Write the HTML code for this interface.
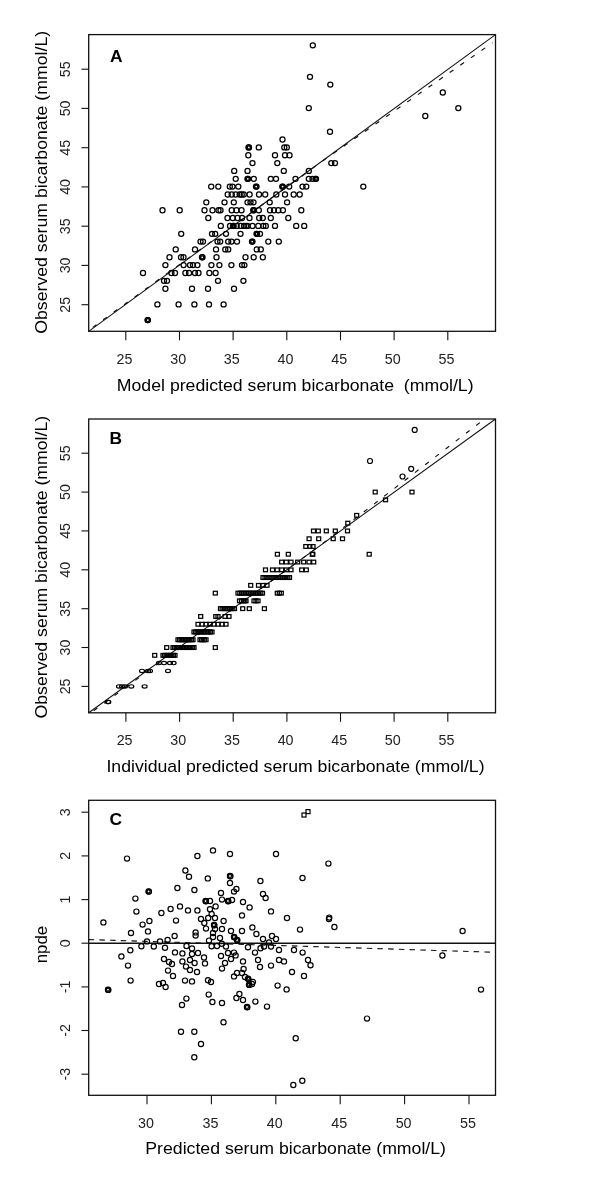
<!DOCTYPE html>
<html lang="en"><head><meta charset="utf-8"><title>Figure</title>
<style>html,body{margin:0;padding:0;background:#fff}svg{display:block}text{font-family:'Liberation Sans', sans-serif;fill:#111}.fr{fill:none;stroke:#111;stroke-width:1.3}.tk{stroke:#111;stroke-width:1.1;fill:none}.ln{stroke:#111;stroke-width:1.05;fill:none}.ds{stroke:#111;stroke-width:1.15;fill:none;stroke-dasharray:4.6 8.3}.pt{fill:none;stroke:#000;stroke-width:1.25}.pc{fill:none;stroke:#000;stroke-width:1.2}.ps{fill:none;stroke:#000;stroke-width:1.25}.tl{font-size:14.3px;fill:#222}.ax{font-size:17px;fill:#000}.pl{font-size:17.4px;font-weight:bold;fill:#000}</style></head><body>
<svg width="600" height="1200" viewBox="0 0 600 1200">
<rect x="0" y="0" width="600" height="1200" fill="#fff"/>
<g id="panelA">
<line class="ln" x1="88.7" y1="331.3" x2="495.5" y2="34.6"/>
<polyline class="ds" points="92.7,327.4 330.0,155.7 492.5,42.8"/>
<circle class="pt" cx="147.6" cy="320.1" r="2.55"/>
<circle class="pt" cx="147.9" cy="320.1" r="2.55"/>
<circle class="pt" cx="147.8" cy="320.1" r="1.50"/>
<circle class="pt" cx="157.4" cy="304.4" r="2.55"/>
<circle class="pt" cx="178.6" cy="304.4" r="2.55"/>
<circle class="pt" cx="194.4" cy="304.4" r="2.55"/>
<circle class="pt" cx="209.0" cy="304.4" r="2.55"/>
<circle class="pt" cx="223.6" cy="304.4" r="2.55"/>
<circle class="pt" cx="165.4" cy="288.7" r="2.55"/>
<circle class="pt" cx="192.0" cy="288.7" r="2.55"/>
<circle class="pt" cx="208.0" cy="288.7" r="2.55"/>
<circle class="pt" cx="234.0" cy="288.7" r="2.55"/>
<circle class="pt" cx="164.0" cy="280.8" r="2.55"/>
<circle class="pt" cx="167.0" cy="280.8" r="2.55"/>
<circle class="pt" cx="218.0" cy="280.8" r="2.55"/>
<circle class="pt" cx="243.4" cy="280.8" r="2.55"/>
<circle class="pt" cx="143.0" cy="273.0" r="2.55"/>
<circle class="pt" cx="171.4" cy="273.0" r="2.55"/>
<circle class="pt" cx="175.0" cy="273.0" r="2.55"/>
<circle class="pt" cx="185.4" cy="273.0" r="2.55"/>
<circle class="pt" cx="189.0" cy="273.0" r="2.55"/>
<circle class="pt" cx="195.0" cy="273.0" r="2.55"/>
<circle class="pt" cx="198.5" cy="273.0" r="2.55"/>
<circle class="pt" cx="209.4" cy="273.0" r="2.55"/>
<circle class="pt" cx="215.6" cy="273.0" r="2.55"/>
<circle class="pt" cx="165.4" cy="265.1" r="2.55"/>
<circle class="pt" cx="183.6" cy="265.1" r="2.55"/>
<circle class="pt" cx="190.0" cy="265.1" r="2.55"/>
<circle class="pt" cx="193.0" cy="265.1" r="2.55"/>
<circle class="pt" cx="197.4" cy="265.1" r="2.55"/>
<circle class="pt" cx="211.4" cy="265.1" r="2.55"/>
<circle class="pt" cx="219.4" cy="265.1" r="2.55"/>
<circle class="pt" cx="231.4" cy="265.1" r="2.55"/>
<circle class="pt" cx="242.0" cy="265.1" r="2.55"/>
<circle class="pt" cx="244.4" cy="265.1" r="2.55"/>
<circle class="pt" cx="169.5" cy="257.3" r="2.55"/>
<circle class="pt" cx="181.0" cy="257.3" r="2.55"/>
<circle class="pt" cx="183.5" cy="257.3" r="2.55"/>
<circle class="pt" cx="202.0" cy="257.3" r="2.55"/>
<circle class="pt" cx="202.5" cy="257.3" r="2.55"/>
<circle class="pt" cx="216.5" cy="257.3" r="2.55"/>
<circle class="pt" cx="245.5" cy="257.3" r="2.55"/>
<circle class="pt" cx="253.7" cy="257.3" r="2.55"/>
<circle class="pt" cx="262.8" cy="257.3" r="2.55"/>
<circle class="pt" cx="202.2" cy="257.3" r="1.50"/>
<circle class="pt" cx="175.7" cy="249.4" r="2.55"/>
<circle class="pt" cx="195.0" cy="249.4" r="2.55"/>
<circle class="pt" cx="216.0" cy="249.4" r="2.55"/>
<circle class="pt" cx="225.3" cy="249.4" r="2.55"/>
<circle class="pt" cx="228.2" cy="249.4" r="2.55"/>
<circle class="pt" cx="256.7" cy="249.4" r="2.55"/>
<circle class="pt" cx="260.8" cy="249.4" r="2.55"/>
<circle class="pt" cx="200.5" cy="241.6" r="2.55"/>
<circle class="pt" cx="203.0" cy="241.6" r="2.55"/>
<circle class="pt" cx="217.5" cy="241.6" r="2.55"/>
<circle class="pt" cx="220.2" cy="241.6" r="2.55"/>
<circle class="pt" cx="228.2" cy="241.6" r="2.55"/>
<circle class="pt" cx="231.5" cy="241.6" r="2.55"/>
<circle class="pt" cx="237.0" cy="241.6" r="2.55"/>
<circle class="pt" cx="252.0" cy="241.6" r="2.55"/>
<circle class="pt" cx="252.5" cy="241.6" r="2.55"/>
<circle class="pt" cx="268.3" cy="241.6" r="2.55"/>
<circle class="pt" cx="278.8" cy="241.6" r="2.55"/>
<circle class="pt" cx="252.2" cy="241.6" r="1.50"/>
<circle class="pt" cx="181.2" cy="233.8" r="2.55"/>
<circle class="pt" cx="212.0" cy="233.8" r="2.55"/>
<circle class="pt" cx="215.2" cy="233.8" r="2.55"/>
<circle class="pt" cx="226.0" cy="233.8" r="2.55"/>
<circle class="pt" cx="240.5" cy="233.8" r="2.55"/>
<circle class="pt" cx="256.5" cy="233.8" r="2.55"/>
<circle class="pt" cx="257.0" cy="233.8" r="2.55"/>
<circle class="pt" cx="260.0" cy="233.8" r="2.55"/>
<circle class="pt" cx="256.8" cy="233.8" r="1.50"/>
<circle class="pt" cx="220.8" cy="225.9" r="2.55"/>
<circle class="pt" cx="230.0" cy="225.9" r="2.55"/>
<circle class="pt" cx="233.0" cy="225.9" r="2.55"/>
<circle class="pt" cx="233.6" cy="225.9" r="2.55"/>
<circle class="pt" cx="236.7" cy="225.9" r="2.55"/>
<circle class="pt" cx="240.8" cy="225.9" r="2.55"/>
<circle class="pt" cx="244.0" cy="225.9" r="2.55"/>
<circle class="pt" cx="246.0" cy="225.9" r="2.55"/>
<circle class="pt" cx="247.5" cy="225.9" r="2.55"/>
<circle class="pt" cx="252.5" cy="225.9" r="2.55"/>
<circle class="pt" cx="258.3" cy="225.9" r="2.55"/>
<circle class="pt" cx="263.3" cy="225.9" r="2.55"/>
<circle class="pt" cx="265.8" cy="225.9" r="2.55"/>
<circle class="pt" cx="275.0" cy="225.9" r="2.55"/>
<circle class="pt" cx="296.2" cy="225.9" r="2.55"/>
<circle class="pt" cx="304.2" cy="225.9" r="2.55"/>
<circle class="pt" cx="233.3" cy="225.9" r="1.50"/>
<circle class="pt" cx="208.3" cy="218.0" r="2.55"/>
<circle class="pt" cx="227.5" cy="218.0" r="2.55"/>
<circle class="pt" cx="232.8" cy="218.0" r="2.55"/>
<circle class="pt" cx="237.5" cy="218.0" r="2.55"/>
<circle class="pt" cx="242.0" cy="218.0" r="2.55"/>
<circle class="pt" cx="249.5" cy="218.0" r="2.55"/>
<circle class="pt" cx="259.2" cy="218.0" r="2.55"/>
<circle class="pt" cx="262.8" cy="218.0" r="2.55"/>
<circle class="pt" cx="270.8" cy="218.0" r="2.55"/>
<circle class="pt" cx="288.3" cy="218.0" r="2.55"/>
<circle class="pt" cx="162.5" cy="210.2" r="2.55"/>
<circle class="pt" cx="179.7" cy="210.2" r="2.55"/>
<circle class="pt" cx="204.5" cy="210.2" r="2.55"/>
<circle class="pt" cx="212.5" cy="210.2" r="2.55"/>
<circle class="pt" cx="218.5" cy="210.2" r="2.55"/>
<circle class="pt" cx="220.5" cy="210.2" r="2.55"/>
<circle class="pt" cx="231.7" cy="210.2" r="2.55"/>
<circle class="pt" cx="236.5" cy="210.2" r="2.55"/>
<circle class="pt" cx="241.5" cy="210.2" r="2.55"/>
<circle class="pt" cx="253.3" cy="210.2" r="2.55"/>
<circle class="pt" cx="253.8" cy="210.2" r="2.55"/>
<circle class="pt" cx="258.8" cy="210.2" r="2.55"/>
<circle class="pt" cx="270.0" cy="210.2" r="2.55"/>
<circle class="pt" cx="274.0" cy="210.2" r="2.55"/>
<circle class="pt" cx="278.3" cy="210.2" r="2.55"/>
<circle class="pt" cx="282.9" cy="210.2" r="2.55"/>
<circle class="pt" cx="301.3" cy="210.2" r="2.55"/>
<circle class="pt" cx="253.6" cy="210.2" r="1.50"/>
<circle class="pt" cx="206.3" cy="202.3" r="2.55"/>
<circle class="pt" cx="224.5" cy="202.3" r="2.55"/>
<circle class="pt" cx="233.8" cy="202.3" r="2.55"/>
<circle class="pt" cx="247.5" cy="202.3" r="2.55"/>
<circle class="pt" cx="250.5" cy="202.3" r="2.55"/>
<circle class="pt" cx="253.5" cy="202.3" r="2.55"/>
<circle class="pt" cx="269.7" cy="202.3" r="2.55"/>
<circle class="pt" cx="287.1" cy="202.3" r="2.55"/>
<circle class="pt" cx="227.7" cy="194.5" r="2.55"/>
<circle class="pt" cx="231.7" cy="194.5" r="2.55"/>
<circle class="pt" cx="235.7" cy="194.5" r="2.55"/>
<circle class="pt" cx="239.7" cy="194.5" r="2.55"/>
<circle class="pt" cx="241.7" cy="194.5" r="2.55"/>
<circle class="pt" cx="243.7" cy="194.5" r="2.55"/>
<circle class="pt" cx="249.6" cy="194.5" r="2.55"/>
<circle class="pt" cx="259.0" cy="194.5" r="2.55"/>
<circle class="pt" cx="265.2" cy="194.5" r="2.55"/>
<circle class="pt" cx="276.3" cy="194.5" r="2.55"/>
<circle class="pt" cx="285.0" cy="194.5" r="2.55"/>
<circle class="pt" cx="293.7" cy="194.5" r="2.55"/>
<circle class="pt" cx="299.7" cy="194.5" r="2.55"/>
<circle class="pt" cx="211.2" cy="186.6" r="2.55"/>
<circle class="pt" cx="218.3" cy="186.6" r="2.55"/>
<circle class="pt" cx="229.8" cy="186.6" r="2.55"/>
<circle class="pt" cx="232.5" cy="186.6" r="2.55"/>
<circle class="pt" cx="238.3" cy="186.6" r="2.55"/>
<circle class="pt" cx="256.0" cy="186.6" r="2.55"/>
<circle class="pt" cx="256.5" cy="186.6" r="2.55"/>
<circle class="pt" cx="282.3" cy="186.6" r="2.55"/>
<circle class="pt" cx="282.8" cy="186.6" r="2.55"/>
<circle class="pt" cx="289.2" cy="186.6" r="2.55"/>
<circle class="pt" cx="302.5" cy="186.6" r="2.55"/>
<circle class="pt" cx="306.3" cy="186.6" r="2.55"/>
<circle class="pt" cx="363.3" cy="186.6" r="2.55"/>
<circle class="pt" cx="256.2" cy="186.6" r="1.50"/>
<circle class="pt" cx="282.6" cy="186.6" r="1.50"/>
<circle class="pt" cx="235.7" cy="178.8" r="2.55"/>
<circle class="pt" cx="247.5" cy="178.8" r="2.55"/>
<circle class="pt" cx="248.0" cy="178.8" r="2.55"/>
<circle class="pt" cx="253.8" cy="178.8" r="2.55"/>
<circle class="pt" cx="270.8" cy="178.8" r="2.55"/>
<circle class="pt" cx="276.0" cy="178.8" r="2.55"/>
<circle class="pt" cx="295.5" cy="178.8" r="2.55"/>
<circle class="pt" cx="308.8" cy="178.8" r="2.55"/>
<circle class="pt" cx="312.5" cy="178.8" r="2.55"/>
<circle class="pt" cx="315.5" cy="178.8" r="2.55"/>
<circle class="pt" cx="316.0" cy="178.8" r="2.55"/>
<circle class="pt" cx="247.8" cy="178.8" r="1.50"/>
<circle class="pt" cx="315.8" cy="178.8" r="1.50"/>
<circle class="pt" cx="234.2" cy="170.9" r="2.55"/>
<circle class="pt" cx="247.5" cy="170.9" r="2.55"/>
<circle class="pt" cx="283.8" cy="170.9" r="2.55"/>
<circle class="pt" cx="308.8" cy="170.9" r="2.55"/>
<circle class="pt" cx="252.5" cy="163.1" r="2.55"/>
<circle class="pt" cx="277.3" cy="163.1" r="2.55"/>
<circle class="pt" cx="331.3" cy="163.1" r="2.55"/>
<circle class="pt" cx="335.0" cy="163.1" r="2.55"/>
<circle class="pt" cx="248.3" cy="155.2" r="2.55"/>
<circle class="pt" cx="275.0" cy="155.2" r="2.55"/>
<circle class="pt" cx="285.0" cy="155.2" r="2.55"/>
<circle class="pt" cx="289.5" cy="155.2" r="2.55"/>
<circle class="pt" cx="248.5" cy="147.4" r="2.55"/>
<circle class="pt" cx="249.0" cy="147.4" r="2.55"/>
<circle class="pt" cx="258.8" cy="147.4" r="2.55"/>
<circle class="pt" cx="284.3" cy="147.4" r="2.55"/>
<circle class="pt" cx="286.8" cy="147.4" r="2.55"/>
<circle class="pt" cx="248.8" cy="147.4" r="1.50"/>
<circle class="pt" cx="282.5" cy="139.5" r="2.55"/>
<circle class="pt" cx="330.0" cy="131.7" r="2.55"/>
<circle class="pt" cx="425.3" cy="116.0" r="2.55"/>
<circle class="pt" cx="308.8" cy="108.1" r="2.55"/>
<circle class="pt" cx="458.3" cy="108.1" r="2.55"/>
<circle class="pt" cx="442.8" cy="92.5" r="2.55"/>
<circle class="pt" cx="330.3" cy="84.6" r="2.55"/>
<circle class="pt" cx="310.0" cy="76.8" r="2.55"/>
<circle class="pt" cx="312.8" cy="45.3" r="2.55"/>
<rect class="fr" x="88.7" y="34.6" width="406.8" height="296.7"/>
<line class="tk" x1="125.8" y1="331.3" x2="125.8" y2="340.3"/>
<text class="tl" x="124.5" y="364.1" text-anchor="middle">25</text>
<line class="tk" x1="179.5" y1="331.3" x2="179.5" y2="340.3"/>
<text class="tl" x="178.2" y="364.1" text-anchor="middle">30</text>
<line class="tk" x1="233.1" y1="331.3" x2="233.1" y2="340.3"/>
<text class="tl" x="231.8" y="364.1" text-anchor="middle">35</text>
<line class="tk" x1="286.8" y1="331.3" x2="286.8" y2="340.3"/>
<text class="tl" x="285.5" y="364.1" text-anchor="middle">40</text>
<line class="tk" x1="340.5" y1="331.3" x2="340.5" y2="340.3"/>
<text class="tl" x="339.2" y="364.1" text-anchor="middle">45</text>
<line class="tk" x1="394.1" y1="331.3" x2="394.1" y2="340.3"/>
<text class="tl" x="392.8" y="364.1" text-anchor="middle">50</text>
<line class="tk" x1="447.8" y1="331.3" x2="447.8" y2="340.3"/>
<text class="tl" x="446.5" y="364.1" text-anchor="middle">55</text>
<line class="tk" x1="81.5" y1="304.7" x2="88.7" y2="304.7"/>
<text class="tl" transform="translate(70.1 304.7) rotate(-90)" text-anchor="middle">25</text>
<line class="tk" x1="81.5" y1="265.4" x2="88.7" y2="265.4"/>
<text class="tl" transform="translate(70.1 265.4) rotate(-90)" text-anchor="middle">30</text>
<line class="tk" x1="81.5" y1="226.2" x2="88.7" y2="226.2"/>
<text class="tl" transform="translate(70.1 226.2) rotate(-90)" text-anchor="middle">35</text>
<line class="tk" x1="81.5" y1="186.9" x2="88.7" y2="186.9"/>
<text class="tl" transform="translate(70.1 186.9) rotate(-90)" text-anchor="middle">40</text>
<line class="tk" x1="81.5" y1="147.7" x2="88.7" y2="147.7"/>
<text class="tl" transform="translate(70.1 147.7) rotate(-90)" text-anchor="middle">45</text>
<line class="tk" x1="81.5" y1="108.4" x2="88.7" y2="108.4"/>
<text class="tl" transform="translate(70.1 108.4) rotate(-90)" text-anchor="middle">50</text>
<line class="tk" x1="81.5" y1="69.2" x2="88.7" y2="69.2"/>
<text class="tl" transform="translate(70.1 69.2) rotate(-90)" text-anchor="middle">55</text>
<text class="ax" x="116.8" y="390.5" textLength="356.8" lengthAdjust="spacingAndGlyphs" xml:space="preserve">Model predicted serum bicarbonate  (mmol/L)</text>
<text class="ax" transform="translate(47.0 333.8) rotate(-90)" textLength="303.0" lengthAdjust="spacingAndGlyphs">Observed serum bicarbonate (mmol/L)</text>
<text class="pl" x="110.0" y="62.0">A</text>
</g>
<g id="panelB">
<line class="ln" x1="88.7" y1="712.8" x2="495.5" y2="419.0"/>
<polyline class="ds" points="93.7,710.8 325.0,541.8 485.5,418.3"/>
<ellipse class="pc" cx="108.0" cy="701.9" rx="2.5" ry="1.65"/>
<ellipse class="pc" cx="108.3" cy="701.9" rx="2.5" ry="1.65"/>
<ellipse class="pc" cx="119.0" cy="686.4" rx="2.5" ry="1.65"/>
<ellipse class="pc" cx="122.0" cy="686.4" rx="2.5" ry="1.65"/>
<ellipse class="pc" cx="125.0" cy="686.4" rx="2.5" ry="1.65"/>
<ellipse class="pc" cx="131.3" cy="686.4" rx="2.5" ry="1.65"/>
<ellipse class="pc" cx="144.6" cy="686.4" rx="2.5" ry="1.65"/>
<ellipse class="pc" cx="142.0" cy="670.9" rx="2.5" ry="1.65"/>
<ellipse class="pc" cx="148.0" cy="670.9" rx="2.5" ry="1.65"/>
<ellipse class="pc" cx="150.0" cy="670.9" rx="2.5" ry="1.65"/>
<ellipse class="pc" cx="168.0" cy="670.9" rx="2.5" ry="1.65"/>
<ellipse class="pc" cx="159.0" cy="663.1" rx="2.5" ry="1.65"/>
<ellipse class="pc" cx="164.0" cy="663.1" rx="2.5" ry="1.65"/>
<ellipse class="pc" cx="170.0" cy="663.1" rx="2.5" ry="1.65"/>
<ellipse class="pc" cx="173.6" cy="663.1" rx="2.5" ry="1.65"/>
<rect class="ps" x="152.7" y="653.5" width="4" height="3.7"/>
<rect class="ps" x="161.0" y="653.5" width="4" height="3.7"/>
<rect class="ps" x="164.0" y="653.5" width="4" height="3.7"/>
<rect class="ps" x="167.0" y="653.5" width="4" height="3.7"/>
<rect class="ps" x="170.0" y="653.5" width="4" height="3.7"/>
<rect class="ps" x="173.0" y="653.5" width="4" height="3.7"/>
<rect class="ps" x="162.5" y="653.5" width="4" height="3.7"/>
<rect class="ps" x="165.5" y="653.5" width="4" height="3.7"/>
<rect class="ps" x="168.5" y="653.5" width="4" height="3.7"/>
<rect class="ps" x="171.5" y="653.5" width="4" height="3.7"/>
<rect class="ps" x="164.7" y="645.7" width="4" height="3.7"/>
<rect class="ps" x="171.0" y="645.7" width="4" height="3.7"/>
<rect class="ps" x="174.0" y="645.7" width="4" height="3.7"/>
<rect class="ps" x="177.0" y="645.7" width="4" height="3.7"/>
<rect class="ps" x="180.0" y="645.7" width="4" height="3.7"/>
<rect class="ps" x="183.0" y="645.7" width="4" height="3.7"/>
<rect class="ps" x="186.0" y="645.7" width="4" height="3.7"/>
<rect class="ps" x="189.0" y="645.7" width="4" height="3.7"/>
<rect class="ps" x="192.0" y="645.7" width="4" height="3.7"/>
<rect class="ps" x="213.3" y="645.7" width="4" height="3.7"/>
<rect class="ps" x="172.5" y="645.7" width="4" height="3.7"/>
<rect class="ps" x="175.5" y="645.7" width="4" height="3.7"/>
<rect class="ps" x="178.5" y="645.7" width="4" height="3.7"/>
<rect class="ps" x="181.5" y="645.7" width="4" height="3.7"/>
<rect class="ps" x="184.5" y="645.7" width="4" height="3.7"/>
<rect class="ps" x="187.5" y="645.7" width="4" height="3.7"/>
<rect class="ps" x="190.5" y="645.7" width="4" height="3.7"/>
<rect class="ps" x="176.0" y="637.9" width="4" height="3.7"/>
<rect class="ps" x="179.0" y="637.9" width="4" height="3.7"/>
<rect class="ps" x="182.0" y="637.9" width="4" height="3.7"/>
<rect class="ps" x="185.0" y="637.9" width="4" height="3.7"/>
<rect class="ps" x="188.0" y="637.9" width="4" height="3.7"/>
<rect class="ps" x="191.0" y="637.9" width="4" height="3.7"/>
<rect class="ps" x="198.0" y="637.9" width="4" height="3.7"/>
<rect class="ps" x="201.0" y="637.9" width="4" height="3.7"/>
<rect class="ps" x="204.0" y="637.9" width="4" height="3.7"/>
<rect class="ps" x="177.5" y="637.9" width="4" height="3.7"/>
<rect class="ps" x="180.5" y="637.9" width="4" height="3.7"/>
<rect class="ps" x="183.5" y="637.9" width="4" height="3.7"/>
<rect class="ps" x="186.5" y="637.9" width="4" height="3.7"/>
<rect class="ps" x="189.5" y="637.9" width="4" height="3.7"/>
<rect class="ps" x="199.5" y="637.9" width="4" height="3.7"/>
<rect class="ps" x="202.5" y="637.9" width="4" height="3.7"/>
<rect class="ps" x="192.0" y="630.1" width="4" height="3.7"/>
<rect class="ps" x="195.0" y="630.1" width="4" height="3.7"/>
<rect class="ps" x="198.0" y="630.1" width="4" height="3.7"/>
<rect class="ps" x="201.0" y="630.1" width="4" height="3.7"/>
<rect class="ps" x="204.0" y="630.1" width="4" height="3.7"/>
<rect class="ps" x="207.0" y="630.1" width="4" height="3.7"/>
<rect class="ps" x="210.0" y="630.1" width="4" height="3.7"/>
<rect class="ps" x="193.5" y="630.1" width="4" height="3.7"/>
<rect class="ps" x="196.5" y="630.1" width="4" height="3.7"/>
<rect class="ps" x="199.5" y="630.1" width="4" height="3.7"/>
<rect class="ps" x="202.5" y="630.1" width="4" height="3.7"/>
<rect class="ps" x="205.5" y="630.1" width="4" height="3.7"/>
<rect class="ps" x="208.5" y="630.1" width="4" height="3.7"/>
<rect class="ps" x="196.0" y="622.4" width="4" height="3.7"/>
<rect class="ps" x="200.0" y="622.4" width="4" height="3.7"/>
<rect class="ps" x="204.0" y="622.4" width="4" height="3.7"/>
<rect class="ps" x="208.0" y="622.4" width="4" height="3.7"/>
<rect class="ps" x="212.0" y="622.4" width="4" height="3.7"/>
<rect class="ps" x="216.0" y="622.4" width="4" height="3.7"/>
<rect class="ps" x="220.0" y="622.4" width="4" height="3.7"/>
<rect class="ps" x="224.0" y="622.4" width="4" height="3.7"/>
<rect class="ps" x="198.7" y="614.6" width="4" height="3.7"/>
<rect class="ps" x="213.8" y="614.6" width="4" height="3.7"/>
<rect class="ps" x="216.0" y="614.6" width="4" height="3.7"/>
<rect class="ps" x="223.0" y="614.6" width="4" height="3.7"/>
<rect class="ps" x="227.0" y="614.6" width="4" height="3.7"/>
<rect class="ps" x="218.5" y="606.8" width="4" height="3.7"/>
<rect class="ps" x="222.0" y="606.8" width="4" height="3.7"/>
<rect class="ps" x="225.5" y="606.8" width="4" height="3.7"/>
<rect class="ps" x="229.0" y="606.8" width="4" height="3.7"/>
<rect class="ps" x="232.5" y="606.8" width="4" height="3.7"/>
<rect class="ps" x="240.7" y="606.8" width="4" height="3.7"/>
<rect class="ps" x="247.3" y="606.8" width="4" height="3.7"/>
<rect class="ps" x="262.4" y="606.8" width="4" height="3.7"/>
<rect class="ps" x="220.2" y="606.8" width="4" height="3.7"/>
<rect class="ps" x="223.8" y="606.8" width="4" height="3.7"/>
<rect class="ps" x="227.2" y="606.8" width="4" height="3.7"/>
<rect class="ps" x="230.8" y="606.8" width="4" height="3.7"/>
<rect class="ps" x="237.5" y="599.0" width="4" height="3.7"/>
<rect class="ps" x="241.5" y="599.0" width="4" height="3.7"/>
<rect class="ps" x="244.0" y="599.0" width="4" height="3.7"/>
<rect class="ps" x="252.0" y="599.0" width="4" height="3.7"/>
<rect class="ps" x="256.0" y="599.0" width="4" height="3.7"/>
<rect class="ps" x="239.5" y="599.0" width="4" height="3.7"/>
<rect class="ps" x="242.8" y="599.0" width="4" height="3.7"/>
<rect class="ps" x="254.0" y="599.0" width="4" height="3.7"/>
<rect class="ps" x="213.3" y="591.3" width="4" height="3.7"/>
<rect class="ps" x="236.0" y="591.3" width="4" height="3.7"/>
<rect class="ps" x="239.5" y="591.3" width="4" height="3.7"/>
<rect class="ps" x="243.0" y="591.3" width="4" height="3.7"/>
<rect class="ps" x="246.5" y="591.3" width="4" height="3.7"/>
<rect class="ps" x="250.0" y="591.3" width="4" height="3.7"/>
<rect class="ps" x="253.5" y="591.3" width="4" height="3.7"/>
<rect class="ps" x="257.0" y="591.3" width="4" height="3.7"/>
<rect class="ps" x="260.5" y="591.3" width="4" height="3.7"/>
<rect class="ps" x="275.3" y="591.3" width="4" height="3.7"/>
<rect class="ps" x="279.3" y="591.3" width="4" height="3.7"/>
<rect class="ps" x="237.8" y="591.3" width="4" height="3.7"/>
<rect class="ps" x="241.2" y="591.3" width="4" height="3.7"/>
<rect class="ps" x="244.8" y="591.3" width="4" height="3.7"/>
<rect class="ps" x="248.2" y="591.3" width="4" height="3.7"/>
<rect class="ps" x="251.8" y="591.3" width="4" height="3.7"/>
<rect class="ps" x="255.2" y="591.3" width="4" height="3.7"/>
<rect class="ps" x="258.8" y="591.3" width="4" height="3.7"/>
<rect class="ps" x="277.3" y="591.3" width="4" height="3.7"/>
<rect class="ps" x="248.7" y="583.5" width="4" height="3.7"/>
<rect class="ps" x="256.5" y="583.5" width="4" height="3.7"/>
<rect class="ps" x="261.0" y="583.5" width="4" height="3.7"/>
<rect class="ps" x="265.0" y="583.5" width="4" height="3.7"/>
<rect class="ps" x="261.0" y="575.7" width="4" height="3.7"/>
<rect class="ps" x="265.0" y="575.7" width="4" height="3.7"/>
<rect class="ps" x="269.0" y="575.7" width="4" height="3.7"/>
<rect class="ps" x="273.0" y="575.7" width="4" height="3.7"/>
<rect class="ps" x="277.0" y="575.7" width="4" height="3.7"/>
<rect class="ps" x="280.5" y="575.7" width="4" height="3.7"/>
<rect class="ps" x="284.0" y="575.7" width="4" height="3.7"/>
<rect class="ps" x="287.5" y="575.7" width="4" height="3.7"/>
<rect class="ps" x="263.0" y="575.7" width="4" height="3.7"/>
<rect class="ps" x="267.0" y="575.7" width="4" height="3.7"/>
<rect class="ps" x="271.0" y="575.7" width="4" height="3.7"/>
<rect class="ps" x="275.0" y="575.7" width="4" height="3.7"/>
<rect class="ps" x="278.8" y="575.7" width="4" height="3.7"/>
<rect class="ps" x="282.2" y="575.7" width="4" height="3.7"/>
<rect class="ps" x="285.8" y="575.7" width="4" height="3.7"/>
<rect class="ps" x="263.5" y="568.0" width="4" height="3.7"/>
<rect class="ps" x="270.5" y="568.0" width="4" height="3.7"/>
<rect class="ps" x="275.2" y="568.0" width="4" height="3.7"/>
<rect class="ps" x="279.7" y="568.0" width="4" height="3.7"/>
<rect class="ps" x="284.3" y="568.0" width="4" height="3.7"/>
<rect class="ps" x="289.0" y="568.0" width="4" height="3.7"/>
<rect class="ps" x="299.7" y="568.0" width="4" height="3.7"/>
<rect class="ps" x="304.3" y="568.0" width="4" height="3.7"/>
<rect class="ps" x="279.7" y="560.2" width="4" height="3.7"/>
<rect class="ps" x="284.3" y="560.2" width="4" height="3.7"/>
<rect class="ps" x="289.0" y="560.2" width="4" height="3.7"/>
<rect class="ps" x="295.7" y="560.2" width="4" height="3.7"/>
<rect class="ps" x="301.7" y="560.2" width="4" height="3.7"/>
<rect class="ps" x="307.0" y="560.2" width="4" height="3.7"/>
<rect class="ps" x="311.7" y="560.2" width="4" height="3.7"/>
<rect class="ps" x="275.4" y="552.4" width="4" height="3.7"/>
<rect class="ps" x="286.3" y="552.4" width="4" height="3.7"/>
<rect class="ps" x="310.3" y="552.4" width="4" height="3.7"/>
<rect class="ps" x="310.8" y="552.4" width="4" height="3.7"/>
<rect class="ps" x="367.2" y="552.4" width="4" height="3.7"/>
<rect class="ps" x="303.8" y="544.6" width="4" height="3.7"/>
<rect class="ps" x="307.8" y="544.6" width="4" height="3.7"/>
<rect class="ps" x="311.0" y="544.6" width="4" height="3.7"/>
<rect class="ps" x="307.1" y="536.9" width="4" height="3.7"/>
<rect class="ps" x="316.7" y="536.9" width="4" height="3.7"/>
<rect class="ps" x="331.2" y="536.9" width="4" height="3.7"/>
<rect class="ps" x="340.5" y="536.9" width="4" height="3.7"/>
<rect class="ps" x="311.5" y="529.1" width="4" height="3.7"/>
<rect class="ps" x="316.3" y="529.1" width="4" height="3.7"/>
<rect class="ps" x="324.3" y="529.1" width="4" height="3.7"/>
<rect class="ps" x="333.3" y="529.1" width="4" height="3.7"/>
<rect class="ps" x="345.5" y="529.1" width="4" height="3.7"/>
<rect class="ps" x="345.8" y="521.3" width="4" height="3.7"/>
<rect class="ps" x="354.7" y="513.5" width="4" height="3.7"/>
<rect class="ps" x="383.5" y="498.0" width="4" height="3.7"/>
<rect class="ps" x="373.2" y="490.2" width="4" height="3.7"/>
<rect class="ps" x="410.0" y="490.2" width="4" height="3.7"/>
<circle class="pc" cx="402.5" cy="476.5" r="2.5"/>
<circle class="pc" cx="411.2" cy="468.8" r="2.5"/>
<circle class="pc" cx="370.0" cy="461.0" r="2.5"/>
<circle class="pc" cx="414.7" cy="429.9" r="2.5"/>
<rect class="fr" x="88.7" y="419.0" width="406.8" height="293.8"/>
<line class="tk" x1="125.9" y1="712.8" x2="125.9" y2="721.8"/>
<text class="tl" x="124.6" y="745.0" text-anchor="middle">25</text>
<line class="tk" x1="179.6" y1="712.8" x2="179.6" y2="721.8"/>
<text class="tl" x="178.2" y="745.0" text-anchor="middle">30</text>
<line class="tk" x1="233.2" y1="712.8" x2="233.2" y2="721.8"/>
<text class="tl" x="231.9" y="745.0" text-anchor="middle">35</text>
<line class="tk" x1="286.9" y1="712.8" x2="286.9" y2="721.8"/>
<text class="tl" x="285.6" y="745.0" text-anchor="middle">40</text>
<line class="tk" x1="340.5" y1="712.8" x2="340.5" y2="721.8"/>
<text class="tl" x="339.2" y="745.0" text-anchor="middle">45</text>
<line class="tk" x1="394.1" y1="712.8" x2="394.1" y2="721.8"/>
<text class="tl" x="392.8" y="745.0" text-anchor="middle">50</text>
<line class="tk" x1="447.8" y1="712.8" x2="447.8" y2="721.8"/>
<text class="tl" x="446.5" y="745.0" text-anchor="middle">55</text>
<line class="tk" x1="81.5" y1="686.4" x2="88.7" y2="686.4"/>
<text class="tl" transform="translate(70.1 686.4) rotate(-90)" text-anchor="middle">25</text>
<line class="tk" x1="81.5" y1="647.5" x2="88.7" y2="647.5"/>
<text class="tl" transform="translate(70.1 647.5) rotate(-90)" text-anchor="middle">30</text>
<line class="tk" x1="81.5" y1="608.7" x2="88.7" y2="608.7"/>
<text class="tl" transform="translate(70.1 608.7) rotate(-90)" text-anchor="middle">35</text>
<line class="tk" x1="81.5" y1="569.8" x2="88.7" y2="569.8"/>
<text class="tl" transform="translate(70.1 569.8) rotate(-90)" text-anchor="middle">40</text>
<line class="tk" x1="81.5" y1="530.9" x2="88.7" y2="530.9"/>
<text class="tl" transform="translate(70.1 530.9) rotate(-90)" text-anchor="middle">45</text>
<line class="tk" x1="81.5" y1="492.1" x2="88.7" y2="492.1"/>
<text class="tl" transform="translate(70.1 492.1) rotate(-90)" text-anchor="middle">50</text>
<line class="tk" x1="81.5" y1="453.2" x2="88.7" y2="453.2"/>
<text class="tl" transform="translate(70.1 453.2) rotate(-90)" text-anchor="middle">55</text>
<text class="ax" x="106.4" y="771.7" textLength="378.2" lengthAdjust="spacingAndGlyphs" xml:space="preserve">Individual predicted serum bicarbonate (mmol/L)</text>
<text class="ax" transform="translate(47.0 718.5) rotate(-90)" textLength="302.7" lengthAdjust="spacingAndGlyphs">Observed serum bicarbonate (mmol/L)</text>
<text class="pl" x="109.6" y="443.8">B</text>
</g>
<g id="panelC">
<line class="ln" style="stroke-width:1.5" x1="88.7" y1="943.2" x2="495.5" y2="943.2"/>
<line class="ds" style="stroke-dasharray:5.5 5.2" x1="88.7" y1="939.6" x2="495.5" y2="952.3"/>
<circle class="pc" cx="127.0" cy="858.6" r="2.6"/>
<circle class="pc" cx="197.4" cy="856.0" r="2.6"/>
<circle class="pc" cx="185.4" cy="870.5" r="2.6"/>
<circle class="pc" cx="189.0" cy="876.7" r="2.6"/>
<circle class="pc" cx="207.8" cy="878.4" r="2.6"/>
<rect class="pc" x="302.0" y="813.0" width="4" height="4"/>
<rect class="pc" x="306.0" y="809.6" width="4" height="4"/>
<circle class="pc" cx="213.0" cy="850.4" r="2.6"/>
<circle class="pc" cx="230.0" cy="854.0" r="2.6"/>
<circle class="pc" cx="276.0" cy="854.0" r="2.6"/>
<circle class="pc" cx="328.4" cy="863.6" r="2.6"/>
<circle class="pc" cx="230.0" cy="876.0" r="2.6"/>
<circle class="pc" cx="230.4" cy="876.3" r="2.6"/>
<circle class="pc" cx="302.5" cy="878.0" r="2.6"/>
<circle class="pc" cx="177.4" cy="888.0" r="2.6"/>
<circle class="pc" cx="194.4" cy="890.0" r="2.6"/>
<circle class="pc" cx="148.6" cy="891.4" r="2.6"/>
<circle class="pc" cx="148.9" cy="891.6" r="2.6"/>
<circle class="pc" cx="135.4" cy="898.6" r="2.6"/>
<circle class="pc" cx="205.6" cy="901.0" r="2.6"/>
<circle class="pc" cx="205.9" cy="901.2" r="2.6"/>
<circle class="pc" cx="180.0" cy="906.4" r="2.6"/>
<circle class="pc" cx="170.6" cy="909.0" r="2.6"/>
<circle class="pc" cx="188.0" cy="910.4" r="2.6"/>
<circle class="pc" cx="197.4" cy="910.4" r="2.6"/>
<circle class="pc" cx="136.4" cy="911.6" r="2.6"/>
<circle class="pc" cx="161.4" cy="913.0" r="2.6"/>
<circle class="pc" cx="201.0" cy="919.0" r="2.6"/>
<circle class="pc" cx="208.2" cy="918.0" r="2.6"/>
<circle class="pc" cx="176.0" cy="920.6" r="2.6"/>
<circle class="pc" cx="149.4" cy="921.0" r="2.6"/>
<circle class="pc" cx="103.4" cy="922.4" r="2.6"/>
<circle class="pc" cx="204.3" cy="923.0" r="2.6"/>
<circle class="pc" cx="142.6" cy="924.6" r="2.6"/>
<circle class="pc" cx="206.0" cy="928.6" r="2.6"/>
<circle class="pc" cx="148.0" cy="931.4" r="2.6"/>
<circle class="pc" cx="131.0" cy="933.0" r="2.6"/>
<circle class="pc" cx="195.6" cy="932.4" r="2.6"/>
<circle class="pc" cx="195.6" cy="935.6" r="2.6"/>
<circle class="pc" cx="174.6" cy="936.0" r="2.6"/>
<circle class="pc" cx="167.6" cy="940.0" r="2.6"/>
<circle class="pc" cx="160.0" cy="941.4" r="2.6"/>
<circle class="pc" cx="147.0" cy="941.4" r="2.6"/>
<circle class="pc" cx="209.0" cy="940.6" r="2.6"/>
<circle class="pc" cx="153.8" cy="946.5" r="2.6"/>
<circle class="pc" cx="141.4" cy="946.2" r="2.6"/>
<circle class="pc" cx="165.0" cy="947.8" r="2.6"/>
<circle class="pc" cx="186.5" cy="946.0" r="2.6"/>
<circle class="pc" cx="192.0" cy="948.5" r="2.6"/>
<circle class="pc" cx="130.3" cy="950.3" r="2.6"/>
<circle class="pc" cx="230.0" cy="883.0" r="2.6"/>
<circle class="pc" cx="260.4" cy="881.0" r="2.6"/>
<circle class="pc" cx="236.4" cy="889.0" r="2.6"/>
<circle class="pc" cx="234.0" cy="891.6" r="2.6"/>
<circle class="pc" cx="221.0" cy="893.0" r="2.6"/>
<circle class="pc" cx="263.0" cy="894.0" r="2.6"/>
<circle class="pc" cx="265.6" cy="898.0" r="2.6"/>
<circle class="pc" cx="210.0" cy="901.0" r="2.6"/>
<circle class="pc" cx="222.0" cy="899.6" r="2.6"/>
<circle class="pc" cx="228.0" cy="901.0" r="2.6"/>
<circle class="pc" cx="228.3" cy="901.2" r="2.6"/>
<circle class="pc" cx="232.0" cy="900.0" r="2.6"/>
<circle class="pc" cx="243.0" cy="902.0" r="2.6"/>
<circle class="pc" cx="215.6" cy="906.4" r="2.6"/>
<circle class="pc" cx="249.6" cy="907.4" r="2.6"/>
<circle class="pc" cx="210.0" cy="909.2" r="2.6"/>
<circle class="pc" cx="271.0" cy="911.4" r="2.6"/>
<circle class="pc" cx="211.6" cy="914.0" r="2.6"/>
<circle class="pc" cx="242.0" cy="915.4" r="2.6"/>
<circle class="pc" cx="215.0" cy="918.0" r="2.6"/>
<circle class="pc" cx="287.0" cy="918.0" r="2.6"/>
<circle class="pc" cx="223.6" cy="921.0" r="2.6"/>
<circle class="pc" cx="214.0" cy="925.0" r="2.6"/>
<circle class="pc" cx="214.3" cy="925.3" r="2.6"/>
<circle class="pc" cx="215.0" cy="929.0" r="2.6"/>
<circle class="pc" cx="222.0" cy="929.0" r="2.6"/>
<circle class="pc" cx="252.4" cy="927.4" r="2.6"/>
<circle class="pc" cx="300.0" cy="929.6" r="2.6"/>
<circle class="pc" cx="231.0" cy="931.0" r="2.6"/>
<circle class="pc" cx="242.0" cy="931.0" r="2.6"/>
<circle class="pc" cx="213.0" cy="933.0" r="2.6"/>
<circle class="pc" cx="256.4" cy="934.0" r="2.6"/>
<circle class="pc" cx="272.0" cy="936.0" r="2.6"/>
<circle class="pc" cx="213.0" cy="937.0" r="2.6"/>
<circle class="pc" cx="220.0" cy="938.0" r="2.6"/>
<circle class="pc" cx="234.0" cy="937.0" r="2.6"/>
<circle class="pc" cx="234.3" cy="937.3" r="2.6"/>
<circle class="pc" cx="237.0" cy="940.0" r="2.6"/>
<circle class="pc" cx="237.3" cy="940.2" r="2.6"/>
<circle class="pc" cx="263.0" cy="939.0" r="2.6"/>
<circle class="pc" cx="276.0" cy="939.0" r="2.6"/>
<circle class="pc" cx="269.0" cy="942.4" r="2.6"/>
<circle class="pc" cx="211.6" cy="946.3" r="2.6"/>
<circle class="pc" cx="217.0" cy="946.0" r="2.6"/>
<circle class="pc" cx="226.0" cy="946.5" r="2.6"/>
<circle class="pc" cx="248.0" cy="947.3" r="2.6"/>
<circle class="pc" cx="264.0" cy="946.5" r="2.6"/>
<circle class="pc" cx="260.5" cy="948.3" r="2.6"/>
<circle class="pc" cx="221.8" cy="943.7" r="2.6"/>
<circle class="pc" cx="271.0" cy="946.6" r="2.6"/>
<circle class="pc" cx="279.0" cy="950.0" r="2.6"/>
<circle class="pc" cx="329.0" cy="919.0" r="2.6"/>
<circle class="pc" cx="329.2" cy="917.6" r="2.6"/>
<circle class="pc" cx="334.4" cy="927.0" r="2.6"/>
<circle class="pc" cx="462.6" cy="931.0" r="2.6"/>
<circle class="pc" cx="442.4" cy="955.5" r="2.6"/>
<circle class="pc" cx="481.0" cy="989.6" r="2.6"/>
<circle class="pc" cx="310.5" cy="965.2" r="2.6"/>
<circle class="pc" cx="121.4" cy="956.4" r="2.6"/>
<circle class="pc" cx="175.0" cy="952.4" r="2.6"/>
<circle class="pc" cx="182.4" cy="953.4" r="2.6"/>
<circle class="pc" cx="192.0" cy="954.0" r="2.6"/>
<circle class="pc" cx="198.0" cy="953.0" r="2.6"/>
<circle class="pc" cx="204.0" cy="957.4" r="2.6"/>
<circle class="pc" cx="164.0" cy="959.0" r="2.6"/>
<circle class="pc" cx="190.0" cy="960.0" r="2.6"/>
<circle class="pc" cx="182.4" cy="961.4" r="2.6"/>
<circle class="pc" cx="128.0" cy="965.6" r="2.6"/>
<circle class="pc" cx="169.0" cy="962.0" r="2.6"/>
<circle class="pc" cx="172.0" cy="964.0" r="2.6"/>
<circle class="pc" cx="194.6" cy="963.0" r="2.6"/>
<circle class="pc" cx="205.0" cy="963.4" r="2.6"/>
<circle class="pc" cx="186.0" cy="966.6" r="2.6"/>
<circle class="pc" cx="168.0" cy="970.6" r="2.6"/>
<circle class="pc" cx="190.0" cy="970.0" r="2.6"/>
<circle class="pc" cx="197.0" cy="972.0" r="2.6"/>
<circle class="pc" cx="173.0" cy="976.0" r="2.6"/>
<circle class="pc" cx="130.6" cy="980.6" r="2.6"/>
<circle class="pc" cx="185.0" cy="980.6" r="2.6"/>
<circle class="pc" cx="192.0" cy="981.4" r="2.6"/>
<circle class="pc" cx="208.0" cy="980.3" r="2.6"/>
<circle class="pc" cx="159.0" cy="984.0" r="2.6"/>
<circle class="pc" cx="163.0" cy="983.0" r="2.6"/>
<circle class="pc" cx="165.6" cy="987.0" r="2.6"/>
<circle class="pc" cx="108.0" cy="989.6" r="2.6"/>
<circle class="pc" cx="108.3" cy="989.9" r="2.6"/>
<circle class="pc" cx="208.7" cy="994.6" r="2.6"/>
<circle class="pc" cx="186.4" cy="998.6" r="2.6"/>
<circle class="pc" cx="182.0" cy="1005.0" r="2.6"/>
<circle class="pc" cx="294.0" cy="950.0" r="2.6"/>
<circle class="pc" cx="302.6" cy="952.6" r="2.6"/>
<circle class="pc" cx="255.0" cy="952.6" r="2.6"/>
<circle class="pc" cx="234.0" cy="952.6" r="2.6"/>
<circle class="pc" cx="228.0" cy="953.0" r="2.6"/>
<circle class="pc" cx="221.0" cy="956.0" r="2.6"/>
<circle class="pc" cx="231.0" cy="959.0" r="2.6"/>
<circle class="pc" cx="235.6" cy="955.4" r="2.6"/>
<circle class="pc" cx="258.0" cy="960.0" r="2.6"/>
<circle class="pc" cx="243.0" cy="961.4" r="2.6"/>
<circle class="pc" cx="279.0" cy="960.0" r="2.6"/>
<circle class="pc" cx="284.0" cy="961.4" r="2.6"/>
<circle class="pc" cx="308.0" cy="960.0" r="2.6"/>
<circle class="pc" cx="225.0" cy="963.0" r="2.6"/>
<circle class="pc" cx="271.0" cy="965.6" r="2.6"/>
<circle class="pc" cx="260.0" cy="967.0" r="2.6"/>
<circle class="pc" cx="222.0" cy="968.6" r="2.6"/>
<circle class="pc" cx="243.6" cy="969.0" r="2.6"/>
<circle class="pc" cx="292.0" cy="972.0" r="2.6"/>
<circle class="pc" cx="237.0" cy="973.0" r="2.6"/>
<circle class="pc" cx="242.0" cy="973.0" r="2.6"/>
<circle class="pc" cx="304.0" cy="976.0" r="2.6"/>
<circle class="pc" cx="234.0" cy="976.4" r="2.6"/>
<circle class="pc" cx="245.0" cy="977.0" r="2.6"/>
<circle class="pc" cx="248.0" cy="978.6" r="2.6"/>
<circle class="pc" cx="248.3" cy="978.9" r="2.6"/>
<circle class="pc" cx="211.0" cy="982.0" r="2.6"/>
<circle class="pc" cx="253.0" cy="982.0" r="2.6"/>
<circle class="pc" cx="249.0" cy="984.6" r="2.6"/>
<circle class="pc" cx="249.3" cy="984.9" r="2.6"/>
<circle class="pc" cx="252.0" cy="984.0" r="2.6"/>
<circle class="pc" cx="277.6" cy="985.6" r="2.6"/>
<circle class="pc" cx="286.6" cy="989.4" r="2.6"/>
<circle class="pc" cx="239.4" cy="994.0" r="2.6"/>
<circle class="pc" cx="236.4" cy="998.0" r="2.6"/>
<circle class="pc" cx="243.0" cy="1000.0" r="2.6"/>
<circle class="pc" cx="212.4" cy="1002.0" r="2.6"/>
<circle class="pc" cx="222.0" cy="1003.0" r="2.6"/>
<circle class="pc" cx="255.4" cy="1001.6" r="2.6"/>
<circle class="pc" cx="247.0" cy="1007.0" r="2.6"/>
<circle class="pc" cx="247.3" cy="1007.3" r="2.6"/>
<circle class="pc" cx="267.0" cy="1006.6" r="2.6"/>
<circle class="pc" cx="223.5" cy="1022.2" r="2.6"/>
<circle class="pc" cx="181.0" cy="1031.7" r="2.6"/>
<circle class="pc" cx="194.3" cy="1031.7" r="2.6"/>
<circle class="pc" cx="201.0" cy="1044.0" r="2.6"/>
<circle class="pc" cx="194.3" cy="1057.3" r="2.6"/>
<circle class="pc" cx="295.7" cy="1038.3" r="2.6"/>
<circle class="pc" cx="302.3" cy="1080.7" r="2.6"/>
<circle class="pc" cx="293.3" cy="1085.0" r="2.6"/>
<circle class="pc" cx="367.0" cy="1018.6" r="2.6"/>
<circle class="pc" cx="230.0" cy="876.0" r="1.5"/>
<circle class="pc" cx="148.6" cy="891.4" r="1.5"/>
<circle class="pc" cx="205.6" cy="901.0" r="1.5"/>
<circle class="pc" cx="228.0" cy="901.0" r="1.5"/>
<circle class="pc" cx="214.0" cy="925.0" r="1.5"/>
<circle class="pc" cx="234.0" cy="937.0" r="1.5"/>
<circle class="pc" cx="237.0" cy="940.0" r="1.5"/>
<circle class="pc" cx="108.0" cy="989.6" r="1.5"/>
<circle class="pc" cx="248.0" cy="978.6" r="1.5"/>
<circle class="pc" cx="249.0" cy="984.6" r="1.5"/>
<circle class="pc" cx="247.0" cy="1007.0" r="1.5"/>
<rect class="fr" x="88.7" y="800.3" width="406.8" height="295.0"/>
<line class="tk" x1="147.0" y1="1095.3" x2="147.0" y2="1104.3"/>
<text class="tl" x="146.0" y="1128.3" text-anchor="middle">30</text>
<line class="tk" x1="211.4" y1="1095.3" x2="211.4" y2="1104.3"/>
<text class="tl" x="210.4" y="1128.3" text-anchor="middle">35</text>
<line class="tk" x1="275.8" y1="1095.3" x2="275.8" y2="1104.3"/>
<text class="tl" x="274.8" y="1128.3" text-anchor="middle">40</text>
<line class="tk" x1="340.2" y1="1095.3" x2="340.2" y2="1104.3"/>
<text class="tl" x="339.2" y="1128.3" text-anchor="middle">45</text>
<line class="tk" x1="404.6" y1="1095.3" x2="404.6" y2="1104.3"/>
<text class="tl" x="403.6" y="1128.3" text-anchor="middle">50</text>
<line class="tk" x1="469.0" y1="1095.3" x2="469.0" y2="1104.3"/>
<text class="tl" x="468.0" y="1128.3" text-anchor="middle">55</text>
<line class="tk" x1="81.5" y1="1074.2" x2="88.7" y2="1074.2"/>
<text class="tl" transform="translate(70.1 1074.2) rotate(-90)" text-anchor="middle">-3</text>
<line class="tk" x1="81.5" y1="1030.5" x2="88.7" y2="1030.5"/>
<text class="tl" transform="translate(70.1 1030.5) rotate(-90)" text-anchor="middle">-2</text>
<line class="tk" x1="81.5" y1="986.9" x2="88.7" y2="986.9"/>
<text class="tl" transform="translate(70.1 986.9) rotate(-90)" text-anchor="middle">-1</text>
<line class="tk" x1="81.5" y1="943.2" x2="88.7" y2="943.2"/>
<text class="tl" transform="translate(70.1 943.2) rotate(-90)" text-anchor="middle">0</text>
<line class="tk" x1="81.5" y1="899.6" x2="88.7" y2="899.6"/>
<text class="tl" transform="translate(70.1 899.6) rotate(-90)" text-anchor="middle">1</text>
<line class="tk" x1="81.5" y1="855.9" x2="88.7" y2="855.9"/>
<text class="tl" transform="translate(70.1 855.9) rotate(-90)" text-anchor="middle">2</text>
<line class="tk" x1="81.5" y1="812.2" x2="88.7" y2="812.2"/>
<text class="tl" transform="translate(70.1 812.2) rotate(-90)" text-anchor="middle">3</text>
<text class="ax" x="145.3" y="1154.0" textLength="300.7" lengthAdjust="spacingAndGlyphs" xml:space="preserve">Predicted serum bicarbonate (mmol/L)</text>
<text class="ax" transform="translate(47.3 963.3) rotate(-90)" textLength="37.5" lengthAdjust="spacingAndGlyphs">npde</text>
<text class="pl" x="109.6" y="825.2">C</text>
</g>
</svg></body></html>
